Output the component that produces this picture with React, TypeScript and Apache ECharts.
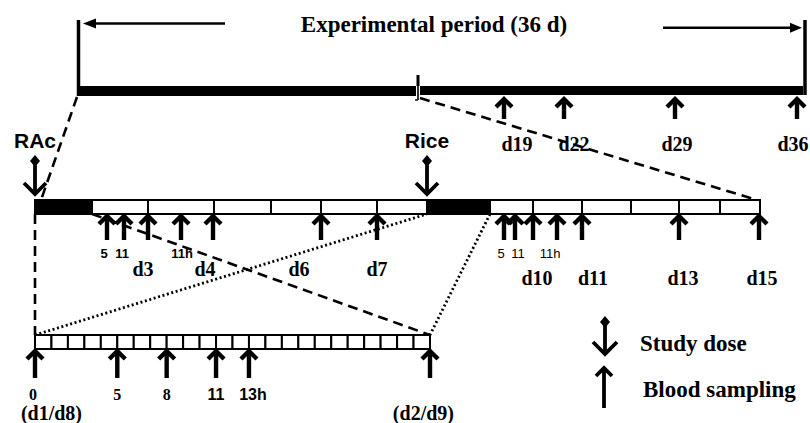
import React, { useEffect, useRef } from "react";
import * as echarts from "echarts";

const SERIF = '"Liberation Serif", "Times New Roman", Times, serif';
const SANS = '"Liberation Sans", Arial, Helvetica, sans-serif';
const INK = "#000000";

// ---------- rows of the schematic (diagram units on an 810 x 423 plane) ----------
const TOP_BAR = [86, 96];
const MID_BOX = [200, 214];
const BOT_BOX = [335, 349];

// ---------- overview timeline (36 d) ----------
const periodTitle = "Experimental period (36 d)";
const overviewStart = 77;
const overviewBreak = 418;
const overviewEnd = 805;
const overviewSampleLabels = ["d19", "d22", "d29", "d36"];
const overviewSampleAt = [504, 564, 675, 797];
const overviewLabelAt = [517, 574, 677, 793];

// ---------- detailed timeline d1 – d15 ----------
const dayEdges = [35, 92, 148, 214, 271, 321, 377, 427, 490, 533, 582, 631, 679, 720, 760];
const doseNames = ["RAc", "Rice"];
const doseDays = [1, 8];
const detailSampleAt = [107, 124, 148, 181, 213, 321, 377, 504, 515, 533, 557, 582, 679, 759];
const hourTickLabels = ["5", "11", "11h", "5", "11", "11h"];
const hourTickAt = [104, 122, 182, 501, 518, 550];
const dayLabels = ["d3", "d4", "d6", "d7", "d10", "d11", "d13", "d15"];
const dayLabelAt = [143, 205, 299, 377, 537, 593, 683, 762];

// ---------- 24-h profile (d1 / d8) ----------
const PROFILE_X = [35, 430];
const profileHours = 24;
const profileSampleHours = [0, 5, 8, 11, 13, 24];
const profileSampleLabels = ["0", "5", "8", "11", "13h", ""];
const profileLabelSans = [false, false, false, true, true, false];
const profileDayLabels = ["(d1/d8)", "(d2/d9)"];
const profileDayLabelHour = [1.0, 23.6];

// ---------- legend ----------
const legendItems = ["Study dose", "Blood sampling"];

const seg = (p: number[], q: number[], lw: number, dash?: number[]) => ({
  type: "line",
  shape: { x1: p[0], y1: p[1], x2: q[0], y2: q[1] },
  style: { stroke: INK, lineWidth: lw, lineDash: dash || null, fill: null },
});

const txt = (
  p: number[],
  text: string,
  size: number,
  family: string,
  weight: any = "bold",
  align = "center"
) => ({
  type: "text",
  x: p[0],
  y: p[1],
  style: {
    text,
    fontSize: size,
    fontFamily: family,
    fontWeight: weight,
    fill: INK,
    align,
    verticalAlign: "middle",
  },
});

const upArrow = (x: number, tipY: number, baseY: number, half: number, lw: number) => ({
  type: "group",
  children: [
    seg([x, tipY + 3], [x, baseY], lw),
    {
      type: "polyline",
      shape: {
        points: [
          [x - half, tipY + half + 2],
          [x, tipY + 2],
          [x + half, tipY + half + 2],
        ],
      },
      style: { stroke: INK, fill: null, lineWidth: lw, lineJoin: "miter" },
    },
  ],
});

const doseArrow = (x: number, topY: number, botY: number, half: number, lw: number) => ({
  type: "group",
  children: [
    {
      type: "polygon",
      shape: {
        points: [
          [x, topY - 6],
          [x + 5, topY],
          [x, topY + 6],
          [x - 5, topY],
        ],
      },
      style: { fill: INK },
    },
    seg([x, topY], [x, botY - 2], lw),
    {
      type: "polyline",
      shape: {
        points: [
          [x - half, botY - half - 2],
          [x, botY - 2],
          [x + half, botY - half - 2],
        ],
      },
      style: { stroke: INK, fill: null, lineWidth: lw, lineJoin: "miter" },
    },
  ],
});

function buildOption(): any {
  const base = {
    type: "custom",
    coordinateSystem: "cartesian2d",
    xAxisIndex: 0,
    yAxisIndex: 0,
    silent: true,
    clip: false,
  };
  const prof = { ...base, xAxisIndex: 1, yAxisIndex: 1 };

  const connectors = [
    { from: [overviewStart, TOP_BAR[1] + 1], to: [dayEdges[0] + 6, MID_BOX[0]], dash: [10, 6] },
    { from: [overviewBreak + 2, TOP_BAR[1] + 2], to: [dayEdges[dayEdges.length - 1] - 3, MID_BOX[0]], dash: [10, 6] },
    { from: [dayEdges[0], MID_BOX[1]], to: [PROFILE_X[0], BOT_BOX[0]], dash: [10, 6] },
    { from: [dayEdges[1], MID_BOX[1]], to: [PROFILE_X[1], BOT_BOX[0]], dash: [10, 6] },
    { from: [PROFILE_X[0], BOT_BOX[0]], to: [dayEdges[7], MID_BOX[1]], dash: [2, 2.6] },
    { from: [dayEdges[8], MID_BOX[1]], to: [PROFILE_X[1], BOT_BOX[0]], dash: [2, 2.6] },
  ];

  return {
    animation: false,
    backgroundColor: "#ffffff",
    grid: [
      { left: 0, top: 0, width: 810, height: 423 },
      { left: PROFILE_X[0], top: 0, width: PROFILE_X[1] - PROFILE_X[0], height: 423 },
    ],
    xAxis: [
      { type: "value", gridIndex: 0, min: 0, max: 810, show: false },
      { type: "value", gridIndex: 1, min: 0, max: profileHours, show: false },
    ],
    yAxis: [
      { type: "value", gridIndex: 0, min: 0, max: 423, inverse: true, show: false },
      { type: "value", gridIndex: 1, min: 0, max: 423, inverse: true, show: false },
    ],
    series: [
      // connectors (behind everything)
      {
        ...base,
        z: 1,
        data: connectors.map((c, i) => [c.from[0], c.from[1], c.to[0], c.to[1], i]),
        renderItem: (params: any, api: any) => {
          const p = api.coord([api.value(0), api.value(1)]);
          const q = api.coord([api.value(2), api.value(3)]);
          const dash = connectors[params.dataIndex].dash;
          return seg(p, q, dash[0] > 3 ? 2.6 : 2.8, dash);
        },
      },
      // overview timeline frame
      {
        ...base,
        z: 2,
        data: [[overviewStart, overviewBreak, overviewEnd]],
        renderItem: (params: any, api: any) => {
          const c = (x: number, y: number) => api.coord([x, y]);
          const x0 = api.value(0);
          const xb = api.value(1);
          const x1 = api.value(2);
          const a = c(x0, TOP_BAR[0]);
          const b = c(xb - 2, TOP_BAR[1]);
          const a2 = c(xb + 2, TOP_BAR[0]);
          const b2 = c(x1 - 2, TOP_BAR[1] - 1);
          return {
            type: "group",
            children: [
              { type: "rect", shape: { x: a[0], y: a[1], width: b[0] - a[0], height: b[1] - a[1] }, style: { fill: INK } },
              { type: "rect", shape: { x: a2[0], y: a2[1], width: b2[0] - a2[0], height: b2[1] - a2[1] }, style: { fill: INK } },
              seg(c(x0 + 1.5, 20), c(x0 + 1.5, TOP_BAR[1]), 3.5),
              seg(c(x1, 20), c(x1, TOP_BAR[1] - 1), 3.5),
              seg(c(xb, 75), c(xb, 100), 1.6),
              { type: "rect", shape: { x: c(xb - 1.5, 0)[0], y: c(0, 75)[1], width: 3, height: 11 }, style: { fill: INK } },
              seg(c(xb - 3, 100), c(xb, 100), 1.4),
              seg(c(x0 + 10, 23.5), c(225, 23.5), 2.4),
              { type: "polygon", shape: { points: [c(x0 + 6, 23.5), c(x0 + 19, 18.5), c(x0 + 19, 28.5)] }, style: { fill: INK } },
              seg(c(663, 27.7), c(x1 - 12, 27.7), 2.4),
              { type: "polygon", shape: { points: [c(x1 - 3, 27.7), c(x1 - 15, 22.7), c(x1 - 15, 32.7)] }, style: { fill: INK } },
              txt(c(434, 24), periodTitle, 23, SERIF),
            ],
          };
        },
      },
      // overview sampling arrows + labels
      {
        ...base,
        z: 3,
        data: overviewSampleAt.map((x, i) => [x, overviewLabelAt[i]]),
        renderItem: (params: any, api: any) => {
          const p = api.coord([api.value(0), TOP_BAR[1] + 1]);
          const q = api.coord([api.value(0), 119]);
          const l = api.coord([api.value(1), 144]);
          return {
            type: "group",
            children: [
              upArrow(p[0], p[1], q[1], 8, 4.4),
              txt(l, overviewSampleLabels[params.dataIndex], 20, SERIF),
            ],
          };
        },
      },
      // detailed timeline day cells
      {
        ...base,
        z: 2,
        data: dayEdges.slice(0, -1).map((e, i) => [e, dayEdges[i + 1], doseDays.indexOf(i + 1) >= 0 ? 1 : 0]),
        renderItem: (params: any, api: any) => {
          const a = api.coord([api.value(0), MID_BOX[0]]);
          const b = api.coord([api.value(1), MID_BOX[1]]);
          const filled = api.value(2) === 1;
          return {
            type: "rect",
            shape: { x: a[0], y: a[1], width: b[0] - a[0], height: b[1] - a[1] },
            style: { fill: filled ? INK : "#ffffff", stroke: INK, lineWidth: 2 },
          };
        },
      },
      // detailed sampling arrows
      {
        ...base,
        z: 3,
        data: detailSampleAt.map((x) => [x]),
        renderItem: (params: any, api: any) => {
          const p = api.coord([api.value(0), MID_BOX[1]]);
          const q = api.coord([api.value(0), 240]);
          return upArrow(p[0], p[1], q[1], 8, 4.4);
        },
      },
      // hour tick labels
      {
        ...base,
        z: 3,
        data: hourTickAt.map((x) => [x]),
        renderItem: (params: any, api: any) => {
          const p = api.coord([api.value(0), 253]);
          const bold = params.dataIndex < 3;
          return txt(p, hourTickLabels[params.dataIndex], 13, SANS, bold ? "bold" : "normal");
        },
      },
      // day labels
      {
        ...base,
        z: 3,
        data: dayLabelAt.map((x) => [x]),
        renderItem: (params: any, api: any) => {
          const y = params.dataIndex < 4 ? 269 : 278;
          const p = api.coord([api.value(0), y]);
          return txt(p, dayLabels[params.dataIndex], 20, SERIF);
        },
      },
      // study doses on the detailed timeline
      {
        ...base,
        z: 4,
        data: doseDays.map((d) => [dayEdges[d - 1]]),
        renderItem: (params: any, api: any) => {
          const x = api.value(0);
          const top = api.coord([x, 161]);
          const bot = api.coord([x, 196]);
          const lab = api.coord([x, 140]);
          return {
            type: "group",
            children: [
              doseArrow(top[0], top[1], bot[1], 11, 3.8),
              txt(lab, doseNames[params.dataIndex], 21, SANS),
            ],
          };
        },
      },
      // 24-h profile cells
      {
        ...prof,
        z: 2,
        data: Array.from({ length: profileHours }, (_, h) => [h, h + 1]),
        renderItem: (params: any, api: any) => {
          const a = api.coord([api.value(0), BOT_BOX[0]]);
          const b = api.coord([api.value(1), BOT_BOX[1]]);
          return {
            type: "rect",
            shape: { x: a[0], y: a[1], width: b[0] - a[0], height: b[1] - a[1] },
            style: { fill: "#ffffff", stroke: INK, lineWidth: 2 },
          };
        },
      },
      // 24-h profile sampling arrows + hour labels
      {
        ...prof,
        z: 3,
        data: profileSampleHours.map((h) => [h]),
        renderItem: (params: any, api: any) => {
          const h = api.value(0);
          const p = api.coord([h, BOT_BOX[1]]);
          const q = api.coord([h, 378]);
          const i = params.dataIndex;
          const sans = profileLabelSans[i];
          const l = api.coord([h, 394]);
          const children: any[] = [upArrow(p[0], p[1], q[1], 8, 4.4)];
          if (profileSampleLabels[i]) {
            children.push(
              txt([l[0] + (i === 4 ? 4 : 0) - (i === 0 ? 2 : 0), l[1]], profileSampleLabels[i], 16, sans ? SANS : SERIF)
            );
          }
          return { type: "group", children };
        },
      },
      // 24-h profile day labels
      {
        ...prof,
        z: 3,
        data: profileDayLabelHour.map((h) => [h]),
        renderItem: (params: any, api: any) => {
          const p = api.coord([api.value(0), 413]);
          return txt(p, profileDayLabels[params.dataIndex], 20, SERIF);
        },
      },
      // legend
      {
        ...base,
        z: 3,
        data: legendItems.map((_, i) => [i]),
        renderItem: (params: any, api: any) => {
          const i = params.dataIndex;
          if (i === 0) {
            const top = api.coord([605, 322]);
            const bot = api.coord([605, 356]);
            return {
              type: "group",
              children: [
                doseArrow(top[0], top[1], bot[1], 12, 3.8),
                txt(api.coord([640, 343]), legendItems[0], 23, SERIF, "bold", "left"),
              ],
            };
          }
          const tip = api.coord([604, 366]);
          const base2 = api.coord([604, 408]);
          return {
            type: "group",
            children: [
              upArrow(tip[0], tip[1], base2[1], 8, 3.8),
              txt(api.coord([643, 389]), legendItems[1], 23, SERIF, "bold", "left"),
            ],
          };
        },
      },
    ],
  };
}

export default function App() {
  const ref = useRef<HTMLDivElement>(null);
  useEffect(() => {
    if (!ref.current) return;
    const chart = echarts.init(ref.current, null, { renderer: "svg" });
    chart.setOption(buildOption());
    return () => chart.dispose();
  }, []);
  return (
    <div
      ref={ref}
      style={{ position: "fixed", left: 0, top: 0, width: 810, height: 423, background: "#ffffff" }}
    />
  );
}
